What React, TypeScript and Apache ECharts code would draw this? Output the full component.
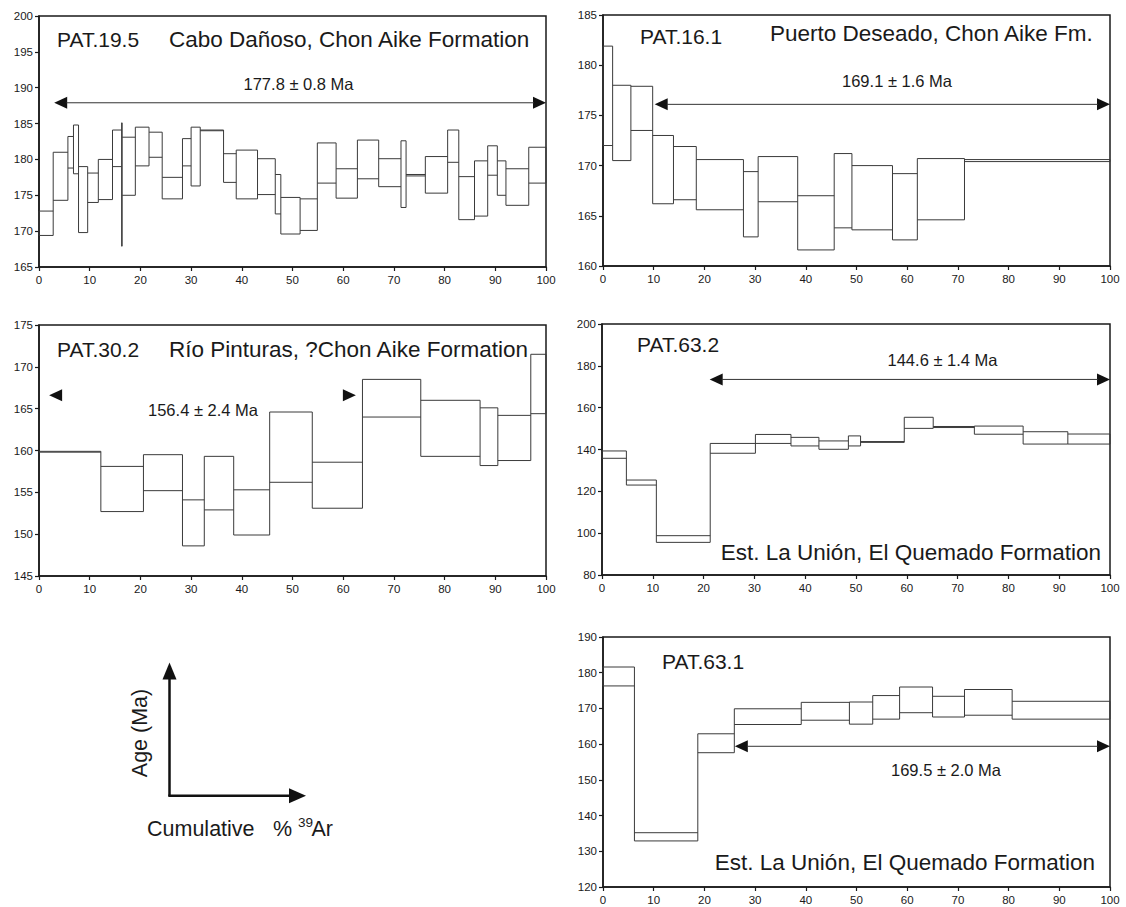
import React, { useEffect, useRef } from "react";
import * as echarts from "echarts";

// ---- DATA ----
// Each step: [cumulative %39Ar start, cumulative %39Ar end, age low (Ma), age high (Ma)]
const pat195Steps = [
  [0, 2.8, 169.4, 172.8],
  [2.8, 5.7, 174.3, 181.0],
  [5.7, 6.8, 178.8, 183.2],
  [6.8, 7.8, 178.0, 184.8],
  [7.8, 9.6, 169.8, 179.0],
  [9.6, 11.7, 174.0, 178.1],
  [11.7, 14.5, 174.4, 180.0],
  [14.5, 16.3, 179.0, 184.1],
  [16.3, 16.4, 167.9, 185.1],
  [16.4, 19.0, 175.0, 183.1],
  [19.0, 21.7, 179.1, 184.5],
  [21.7, 24.3, 180.3, 183.8],
  [24.3, 28.3, 174.5, 177.5],
  [28.3, 30.0, 179.1, 182.9],
  [30.0, 31.8, 176.3, 184.5],
  [31.8, 36.4, 184.0, 184.1],
  [36.4, 38.9, 176.8, 180.8],
  [38.9, 43.1, 174.5, 181.3],
  [43.1, 46.6, 175.1, 180.1],
  [46.6, 47.7, 172.4, 177.9],
  [47.7, 51.5, 169.6, 174.7],
  [51.5, 54.9, 170.1, 174.5],
  [54.9, 58.6, 176.7, 182.3],
  [58.6, 62.8, 174.6, 178.7],
  [62.8, 67.0, 177.3, 182.7],
  [67.0, 71.4, 176.2, 180.1],
  [71.4, 72.4, 173.3, 182.6],
  [72.4, 76.2, 177.7, 177.9],
  [76.2, 80.6, 175.3, 180.4],
  [80.6, 82.8, 179.6, 184.1],
  [82.8, 85.9, 171.6, 177.6],
  [85.9, 88.5, 172.1, 179.8],
  [88.5, 90.4, 177.8, 181.9],
  [90.4, 92.1, 175.0, 179.8],
  [92.1, 96.6, 173.6, 178.7],
  [96.6, 100, 176.7, 181.7],
];

const pat161Steps = [
  [0, 1.9, 172.0, 181.9],
  [1.9, 5.5, 170.5, 178.0],
  [5.5, 9.8, 173.5, 177.9],
  [9.8, 13.9, 166.2, 173.0],
  [13.9, 18.4, 166.6, 171.9],
  [18.4, 27.7, 165.6, 170.6],
  [27.7, 30.6, 162.9, 169.4],
  [30.6, 38.4, 166.4, 170.9],
  [38.4, 45.6, 161.6, 167.0],
  [45.6, 49.1, 163.8, 171.2],
  [49.1, 57.1, 163.6, 170.0],
  [57.1, 62.0, 162.6, 169.2],
  [62.0, 71.3, 164.6, 170.7],
  [71.3, 100, 170.4, 170.6],
];

const pat302Steps = [
  [0, 12.2, 159.8, 159.9],
  [12.2, 20.6, 152.7, 158.1],
  [20.6, 28.3, 155.2, 159.5],
  [28.3, 32.6, 148.6, 154.1],
  [32.6, 38.4, 152.9, 159.3],
  [38.4, 45.5, 149.9, 155.3],
  [45.5, 53.9, 156.2, 164.6],
  [53.9, 63.8, 153.1, 158.6],
  [63.8, 75.3, 164.0, 168.5],
  [75.3, 87.0, 159.3, 166.0],
  [87.0, 90.5, 158.2, 165.1],
  [90.5, 97.0, 158.8, 164.2],
  [97.0, 100, 164.4, 171.5],
];

const pat632Steps = [
  [0, 4.8, 135.8, 139.3],
  [4.8, 10.7, 123.0, 125.4],
  [10.7, 21.3, 95.6, 98.8],
  [21.3, 30.2, 138.2, 142.9],
  [30.2, 37.2, 142.9, 147.2],
  [37.2, 42.7, 141.7, 145.8],
  [42.7, 48.5, 140.1, 144.1],
  [48.5, 50.9, 141.7, 146.5],
  [50.9, 59.5, 143.4, 143.8],
  [59.5, 65.2, 150.1, 155.4],
  [65.2, 73.3, 150.5, 151.0],
  [73.3, 82.9, 147.3, 151.2],
  [82.9, 91.7, 142.6, 148.5],
  [91.7, 100, 142.6, 147.4],
];

const pat631Steps = [
  [0, 6.2, 176.3, 181.6],
  [6.2, 18.7, 132.9, 135.2],
  [18.7, 25.9, 157.6, 162.9],
  [25.9, 39.1, 165.5, 169.9],
  [39.1, 48.6, 166.7, 171.7],
  [48.6, 53.2, 165.6, 171.8],
  [53.2, 58.5, 167.0, 173.6],
  [58.5, 65.0, 168.8, 176.0],
  [65.0, 71.3, 167.6, 173.4],
  [71.3, 80.7, 168.1, 175.3],
  [80.7, 100, 167.0, 172.0],
];

// Plateau: [start %, end %, arrow age level, line drawn (1) or only arrowheads (0)]
const pat195Plateau = [3.0, 100, 187.9, 1];
const pat161Plateau = [10.2, 100, 176.1, 1];
const pat302Plateau = [2.0, 62.5, 166.6, 0];
const pat632Plateau = [21.2, 100, 173.5, 1];
const pat631Plateau = [26.0, 100, 159.4, 1];

const sampleNames = ["PAT.19.5", "PAT.16.1", "PAT.30.2", "PAT.63.2", "PAT.63.1"];
const localities = [
  "Cabo Dañoso, Chon Aike Formation",
  "Puerto Deseado, Chon Aike Fm.",
  "Río Pinturas, ?Chon Aike Formation",
  "Est. La Unión, El Quemado Formation",
  "Est. La Unión, El Quemado Formation",
];
const plateauAges = ["177.8 ± 0.8 Ma", "169.1 ± 1.6 Ma", "156.4 ± 2.4 Ma", "144.6 ± 1.4 Ma", "169.5 ± 2.0 Ma"];
const yMins = [165, 160, 145, 80, 120];
const yMaxs = [200, 185, 175, 200, 190];
const yIntervals = [5, 5, 5, 20, 10];
const xMin = 0;
const xMax = 100;
const xInterval = 10;

const allSteps = [pat195Steps, pat161Steps, pat302Steps, pat632Steps, pat631Steps];
const allPlateaus = [pat195Plateau, pat161Plateau, pat302Plateau, pat632Plateau, pat631Plateau];

// ---- LAYOUT / STYLE ----
const FONT = '"Liberation Sans", Arial, Helvetica, sans-serif';
const INK = "#1a1a1a";
const STEP_INK = "#3a3a3a";
const grids = [
  { left: 39, top: 16, width: 507, height: 251 },
  { left: 603, top: 15, width: 507, height: 251 },
  { left: 39, top: 325, width: 507, height: 251 },
  { left: 602, top: 324, width: 508, height: 251 },
  { left: 603, top: 637, width: 507, height: 250 },
];
// text placements (absolute px)
const namePos = [
  [57, 39.5], [640, 36.5], [57, 349], [637, 344], [662, 661],
];
const locPos = [
  [169, 39.5, "left"], [770, 33.5, "left"], [169, 349, "left"], [1101, 552, "right"], [1095, 862, "right"],
];
const agePos = [
  [298.5, 83.5], [897, 80.5], [203, 410], [942.5, 360], [946, 770],
];

function txt(text: string, x: number, y: number, size: number, align = "left", extra: any = {}) {
  return {
    type: "text",
    x,
    y,
    silent: true,
    ...extra,
    style: {
      text,
      font: `${size}px ${FONT}`,
      fill: INK,
      textAlign: align,
      textVerticalAlign: "middle",
    },
  };
}

function seg(x1: number, y1: number, x2: number, y2: number) {
  return {
    type: "line",
    shape: { x1, y1, x2, y2 },
    style: { stroke: STEP_INK, lineWidth: 1 },
  };
}

export default function App() {
  const ref = useRef<HTMLDivElement>(null);

  useEffect(() => {
    if (!ref.current) return;
    const chart = echarts.init(ref.current, undefined, { renderer: "svg" });

    const xAxes = grids.map((_, i) => ({
      type: "value",
      gridIndex: i,
      min: xMin,
      max: xMax,
      interval: xInterval,
      axisLine: { show: true, lineStyle: { color: INK, width: 1.5 } },
      axisTick: { show: true, length: 4, lineStyle: { color: INK, width: 1.2 } },
      axisLabel: { color: INK, fontSize: 11.5, fontFamily: FONT, margin: 7 },
      splitLine: { show: false },
    }));
    const yAxes = grids.map((_, i) => ({
      type: "value",
      gridIndex: i,
      min: yMins[i],
      max: yMaxs[i],
      interval: yIntervals[i],
      axisLine: { show: true, lineStyle: { color: INK, width: 1.5 } },
      axisTick: { show: true, length: 4, lineStyle: { color: INK, width: 1.2 } },
      axisLabel: { color: INK, fontSize: 11.5, fontFamily: FONT, margin: 6 },
      splitLine: { show: false },
    }));

    // Age spectrum: each step is an error box; the vertical at each step boundary
    // spans both neighbouring boxes.
    const stepSeries = allSteps.map((steps, i) => ({
      type: "custom",
      xAxisIndex: i,
      yAxisIndex: i,
      silent: true,
      encode: { x: [0, 1], y: [2, 3] },
      data: steps,
      renderItem: (params: any, api: any) => {
        const k = params.dataIndex;
        const x0 = api.value(0), x1 = api.value(1), lo = api.value(2), hi = api.value(3);
        const tl = api.coord([x0, hi]);
        const br = api.coord([x1, lo]);
        const children: any[] = [seg(tl[0], tl[1], br[0], tl[1]), seg(tl[0], br[1], br[0], br[1])];
        if (k === 0) {
          children.push(seg(tl[0], tl[1], tl[0], br[1]));
        } else {
          const prev = steps[k - 1];
          const top = api.coord([x0, Math.max(prev[3], hi)])[1];
          const bot = api.coord([x0, Math.min(prev[2], lo)])[1];
          children.push(seg(tl[0], top, tl[0], bot));
        }
        if (k === steps.length - 1) {
          children.push(seg(br[0], tl[1], br[0], br[1]));
        }
        return { type: "group", children };
      },
    }));

    const arrowSeries = allPlateaus.map((pl, i) => ({
      type: "custom",
      xAxisIndex: i,
      yAxisIndex: i,
      silent: true,
      encode: { x: [0, 1], y: 2 },
      data: [pl],
      renderItem: (_p: any, api: any) => {
        const a = api.coord([api.value(0), api.value(2)]);
        const b = api.coord([api.value(1), api.value(2)]);
        const showLine = api.value(3) > 0;
        const L = 13, H = 6;
        const children: any[] = [
          {
            type: "polygon",
            shape: { points: [[a[0], a[1]], [a[0] + L, a[1] - H], [a[0] + L, a[1] + H]] },
            style: { fill: "#111" },
          },
          {
            type: "polygon",
            shape: { points: [[b[0], b[1]], [b[0] - L, b[1] - H], [b[0] - L, b[1] + H]] },
            style: { fill: "#111" },
          },
        ];
        if (showLine) {
          children.push({
            type: "line",
            shape: { x1: a[0] + L - 1, y1: a[1], x2: b[0] - L + 1, y2: b[1] },
            style: { stroke: "#333", lineWidth: 1 },
          });
        }
        return { type: "group", children };
      },
    }));

    const graphics: any[] = [];
    sampleNames.forEach((n, i) => graphics.push(txt(n, namePos[i][0], namePos[i][1], 21)));
    localities.forEach((n, i) =>
      graphics.push(txt(n, locPos[i][0] as number, locPos[i][1] as number, 22.5, locPos[i][2] as string))
    );
    plateauAges.forEach((n, i) => graphics.push(txt(n, agePos[i][0], agePos[i][1], 16.5, "center")));

    // axis key
    graphics.push({
      type: "line",
      silent: true,
      shape: { x1: 169.5, y1: 796, x2: 169.5, y2: 676 },
      style: { stroke: "#111", lineWidth: 2.5 },
    });
    graphics.push({
      type: "polygon",
      silent: true,
      shape: { points: [[169.5, 662.5], [162.5, 679.5], [176.5, 679.5]] },
      style: { fill: "#111" },
    });
    graphics.push({
      type: "line",
      silent: true,
      shape: { x1: 168.3, y1: 795.7, x2: 292, y2: 795.7 },
      style: { stroke: "#111", lineWidth: 2.5 },
    });
    graphics.push({
      type: "polygon",
      silent: true,
      shape: { points: [[306, 795.7], [289, 788.2], [289, 803.2]] },
      style: { fill: "#111" },
    });
    graphics.push(txt("Age (Ma)", 140, 733, 21.5, "center", { rotation: Math.PI / 2 }));
    graphics.push(txt("Cumulative", 147, 828.5, 21.5));
    graphics.push(txt("%", 273, 828.5, 21.5));
    graphics.push(txt("39", 298, 822, 13.5));
    graphics.push(txt("Ar", 311.5, 828.5, 21.5));

    chart.setOption({
      animation: false,
      backgroundColor: "#ffffff",
      textStyle: { fontFamily: FONT },
      grid: grids.map((g) => ({
        ...g,
        show: true,
        borderColor: INK,
        borderWidth: 1.5,
        backgroundColor: "transparent",
      })),
      xAxis: xAxes,
      yAxis: yAxes,
      series: [...stepSeries, ...arrowSeries],
      graphic: { elements: graphics },
    });

    return () => chart.dispose();
  }, []);

  return (
    <div
      ref={ref}
      style={{ position: "absolute", left: 0, top: 0, width: 1126, height: 907, background: "#fff" }}
    />
  );
}
